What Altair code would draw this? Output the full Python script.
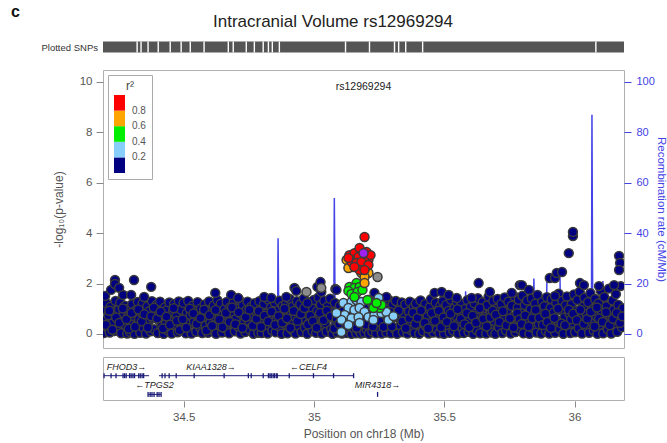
import altair as alt
import pandas as pd

# ---------------------------------------------------------------- data
TITLE = "Intracranial Volume rs12969294"
LEAD_NAME = "rs12969294"
X_DOMAIN = [34.19, 36.19]          # Mb on chr18
P_DOMAIN = [-0.556, 10.476]        # -log10(p)
R_DOMAIN = [-5.56, 104.76]         # cM/Mb

# r2 classes (upper bounds) and their colours
LD_BREAKS = [0.2, 0.4, 0.6, 0.8]
LD_COLORS = ["#000080", "#87cefa", "#00ee00", "#ffa500", "#ff0000"]
LD_NOMINAL = {"navy": 0.1, "lightblue": 0.3, "green": 0.5, "orange": 0.7, "red": 0.9}

# (position Mb, -log10 p) per LD class
NAVY_SNPS = [
    (34.193, 0.04), (34.196, 0.52), (34.199, 0.98), (34.203, 1.22), (34.207, 0.27), (34.211, 0.74),
    (34.216, 0.06), (34.219, 1.08), (34.224, 0.41), (34.229, 0.88), (34.234, 0.12), (34.238, 1.31),
    (34.242, 0.63), (34.247, 0.21), (34.251, 0.97), (34.256, 1.24), (34.260, 0.03), (34.264, 0.51),
    (34.269, 0.82), (34.274, 1.12), (34.278, 0.33), (34.283, 0.02), (34.287, 0.69),
    (34.291, 1.02), (34.294, 0.08), (34.298, 0.44), (34.302, 1.18), (34.306, 0.72), (34.311, 0.01),
    (34.315, 0.93), (34.319, 0.36), (34.324, 1.27), (34.328, 0.58), (34.333, 0.05), (34.337, 0.86),
    (34.342, 1.21), (34.346, 0.24), (34.351, 0.67), (34.355, 0.02), (34.360, 1.09), (34.364, 0.47),
    (34.369, 0.91), (34.373, 0.11), (34.378, 1.30), (34.382, 0.62), (34.387, 0.19),
    (34.392, 0.83), (34.396, 1.16), (34.400, 0.04), (34.405, 0.55), (34.409, 1.28), (34.414, 0.30),
    (34.418, 0.78), (34.423, 0.01), (34.427, 1.05), (34.432, 0.43), (34.436, 0.95), (34.441, 0.13),
    (34.445, 1.25), (34.450, 0.64), (34.454, 0.02), (34.459, 0.88), (34.463, 1.19), (34.468, 0.35),
    (34.472, 0.71), (34.477, 0.07), (34.481, 1.29), (34.486, 0.50),
    (34.490, 0.96), (34.494, 0.18), (34.499, 1.23), (34.503, 0.61), (34.508, 0.03), (34.512, 0.84),
    (34.517, 1.31), (34.521, 0.39), (34.526, 0.75), (34.530, 0.02), (34.535, 1.12), (34.539, 0.48),
    (34.544, 0.90), (34.548, 0.09), (34.553, 1.26), (34.557, 0.57), (34.562, 0.27), (34.566, 1.01),
    (34.571, 0.04), (34.575, 0.69), (34.580, 1.17), (34.584, 0.33), (34.589, 0.86),
    (34.593, 0.05), (34.597, 1.29), (34.602, 0.46), (34.606, 0.92), (34.611, 0.15), (34.615, 1.13),
    (34.620, 0.68), (34.624, 0.01), (34.629, 1.34), (34.633, 0.37), (34.638, 0.81), (34.642, 1.20),
    (34.647, 0.06), (34.651, 0.54), (34.656, 0.99), (34.660, 0.22), (34.665, 1.27), (34.669, 0.72),
    (34.674, 0.03), (34.678, 1.06), (34.683, 0.42), (34.687, 0.87),
    (34.691, 1.24), (34.696, 0.11), (34.700, 0.60), (34.705, 1.02), (34.709, 0.29), (34.714, 1.33),
    (34.718, 0.02), (34.723, 0.77), (34.727, 1.15), (34.732, 0.45), (34.736, 0.08), (34.741, 0.94),
    (34.745, 1.28), (34.750, 0.53), (34.754, 0.17), (34.759, 1.08), (34.763, 0.70), (34.768, 0.01),
    (34.772, 1.22), (34.777, 0.38), (34.781, 0.85), (34.786, 0.05),
    (34.790, 1.30), (34.795, 0.63), (34.799, 0.04), (34.804, 0.97), (34.808, 1.19), (34.813, 0.31),
    (34.817, 0.80), (34.822, 0.02), (34.826, 1.36), (34.831, 0.49), (34.835, 1.05), (34.840, 0.14),
    (34.844, 0.73), (34.849, 1.25), (34.853, 0.07), (34.858, 0.58), (34.862, 0.93), (34.867, 1.32),
    (34.871, 0.26), (34.876, 0.01), (34.880, 1.11), (34.885, 0.66),
    (34.889, 0.40), (34.893, 1.21), (34.898, 0.03), (34.902, 0.87), (34.907, 1.39), (34.911, 0.55),
    (34.916, 0.16), (34.920, 1.10), (34.925, 0.70), (34.929, 0.02), (34.934, 1.30), (34.938, 0.34),
    (34.943, 0.95), (34.947, 1.18), (34.952, 0.08), (34.956, 0.62), (34.961, 1.41), (34.965, 0.25),
    (34.970, 0.83), (34.974, 0.01), (34.979, 1.26), (34.983, 0.47),
    (34.990, 1.04), (34.994, 0.12), (34.999, 1.35), (35.003, 0.59), (35.008, 0.05), (35.012, 0.90),
    (35.017, 1.45), (35.021, 0.28), (35.026, 1.16), (35.030, 0.02), (35.035, 0.74), (35.039, 1.32),
    (35.044, 0.43), (35.048, 0.09), (35.053, 1.09), (35.057, 0.66), (35.062, 1.40), (35.066, 0.19),
    (35.071, 0.01), (35.075, 0.85), (35.080, 1.23), (35.084, 0.37),
    (35.090, 0.06), (35.094, 0.72), (35.099, 1.12), (35.103, 0.31), (35.108, 0.02), (35.112, 0.90),
    (35.117, 0.18), (35.121, 0.53), (35.126, 0.04), (35.130, 0.80), (35.135, 0.12), (35.139, 0.45),
    (35.144, 0.01), (35.148, 0.88), (35.153, 0.22), (35.157, 0.58), (35.162, 0.03), (35.166, 0.79),
    (35.171, 0.15), (35.175, 0.41), (35.180, 0.02), (35.184, 0.93), (35.189, 0.27),
    (35.193, 0.05), (35.197, 0.62), (35.202, 0.19), (35.206, 1.02), (35.211, 0.01), (35.215, 0.47),
    (35.220, 0.85), (35.224, 0.10), (35.229, 0.68), (35.233, 1.18), (35.238, 0.03), (35.242, 0.56),
    (35.247, 0.92), (35.251, 0.24), (35.256, 1.29), (35.260, 0.02), (35.265, 0.75), (35.269, 1.10),
    (35.274, 0.36), (35.278, 0.06), (35.283, 0.97), (35.287, 1.35),
    (35.292, 0.50), (35.296, 0.03), (35.301, 1.14), (35.305, 0.81), (35.310, 0.20), (35.314, 1.31),
    (35.319, 0.01), (35.323, 0.64), (35.328, 1.00), (35.332, 0.33), (35.337, 1.25), (35.341, 0.07),
    (35.346, 0.76), (35.350, 1.17), (35.355, 0.44), (35.359, 0.02), (35.364, 0.89), (35.368, 1.28),
    (35.373, 0.15), (35.377, 0.61), (35.382, 1.06), (35.386, 0.04),
    (35.391, 1.21), (35.395, 0.38), (35.400, 0.83), (35.404, 0.01), (35.409, 1.33), (35.413, 0.57),
    (35.418, 0.11), (35.422, 0.96), (35.427, 1.19), (35.431, 0.29), (35.436, 0.70), (35.440, 0.02),
    (35.445, 1.07), (35.449, 1.38), (35.454, 0.48), (35.458, 0.06), (35.463, 0.86), (35.467, 1.24),
    (35.472, 0.17), (35.476, 0.65), (35.481, 0.03), (35.485, 1.12),
    (35.490, 0.42), (35.494, 1.30), (35.499, 0.01), (35.503, 0.78), (35.508, 1.16), (35.512, 0.26),
    (35.517, 0.92), (35.521, 0.05), (35.526, 1.36), (35.530, 0.59), (35.535, 0.13), (35.539, 1.03),
    (35.544, 0.71), (35.548, 1.27), (35.553, 0.02), (35.557, 0.46), (35.562, 0.88), (35.566, 1.20),
    (35.571, 0.21), (35.575, 0.04), (35.580, 0.99), (35.584, 0.63),
    (35.589, 1.34), (35.593, 0.09), (35.598, 0.55), (35.602, 1.08), (35.607, 0.30), (35.611, 0.01),
    (35.616, 1.22), (35.620, 0.80), (35.625, 0.16), (35.629, 1.42), (35.634, 0.49), (35.638, 0.03),
    (35.643, 0.94), (35.647, 1.26), (35.652, 0.37), (35.656, 0.68), (35.661, 0.02), (35.665, 1.14),
    (35.670, 1.48), (35.674, 0.23), (35.679, 0.84), (35.683, 0.06), (35.688, 1.31),
    (35.692, 0.52), (35.696, 0.01), (35.701, 1.00), (35.705, 1.39), (35.710, 0.27), (35.714, 0.74),
    (35.719, 1.19), (35.723, 0.04), (35.728, 0.58), (35.732, 1.45), (35.737, 0.14), (35.741, 0.91),
    (35.746, 1.28), (35.750, 0.40), (35.755, 0.02), (35.759, 1.12), (35.764, 0.69), (35.768, 1.50),
    (35.773, 0.08), (35.777, 0.33), (35.782, 1.05), (35.786, 1.36),
    (35.791, 0.18), (35.795, 0.82), (35.800, 1.52), (35.804, 0.03), (35.809, 1.15), (35.813, 0.47),
    (35.818, 1.33), (35.822, 0.60), (35.827, 0.01), (35.831, 0.97), (35.836, 1.41), (35.840, 0.25),
    (35.845, 0.76), (35.849, 1.20), (35.854, 0.06), (35.858, 1.55), (35.863, 0.39), (35.867, 0.88),
    (35.872, 0.02), (35.876, 1.27), (35.881, 0.64), (35.885, 1.10),
    (35.890, 0.12), (35.894, 1.46), (35.899, 0.71), (35.903, 0.02), (35.908, 1.03), (35.912, 1.38),
    (35.917, 0.35), (35.921, 0.86), (35.926, 0.05), (35.930, 1.24), (35.935, 0.54), (35.939, 1.60),
    (35.944, 0.20), (35.948, 0.95), (35.953, 1.32), (35.957, 0.01), (35.962, 0.66), (35.966, 1.14),
    (35.971, 1.49), (35.975, 0.29), (35.980, 0.81), (35.984, 0.04),
    (35.989, 1.18), (35.993, 0.44), (35.998, 1.57), (36.002, 0.07), (36.007, 0.92), (36.011, 1.35),
    (36.016, 0.23), (36.020, 1.68), (36.025, 0.61), (36.029, 0.02), (36.034, 1.09), (36.038, 1.44),
    (36.043, 0.31), (36.047, 0.79), (36.052, 1.26), (36.056, 0.05), (36.061, 1.62), (36.065, 0.50),
    (36.070, 0.98), (36.074, 0.14), (36.079, 1.39), (36.083, 0.70), (36.088, 0.01),
    (36.092, 1.21), (36.096, 0.36), (36.101, 1.72), (36.105, 0.85), (36.110, 0.03), (36.114, 1.47),
    (36.119, 0.58), (36.123, 1.10), (36.128, 0.18), (36.132, 1.80), (36.137, 0.74), (36.141, 0.02),
    (36.146, 1.33), (36.150, 0.95), (36.155, 0.41), (36.159, 1.58), (36.164, 0.09), (36.168, 1.15),
    (36.173, 0.66), (36.177, 1.90), (36.182, 0.27), (36.186, 1.02),
]
NAVY_DENSE = [
    (34.201, 0.36), (34.214, 0.92), (34.226, 0.17), (34.240, 0.66), (34.253, 0.44), (34.266, 1.01),
    (34.280, 0.58), (34.289, 0.21), (34.300, 0.83), (34.313, 0.29), (34.326, 0.97), (34.339, 0.50),
    (34.349, 0.78), (34.362, 0.26), (34.375, 0.70), (34.385, 1.04), (34.398, 0.61), (34.411, 0.88),
    (34.420, 0.22), (34.434, 0.69), (34.447, 0.37), (34.461, 1.02), (34.474, 0.53), (34.484, 0.15),
    (34.496, 0.58), (34.510, 0.25), (34.523, 1.00), (34.537, 0.81), (34.550, 0.40), (34.564, 0.63),
    (34.578, 0.96), (34.587, 0.14), (34.599, 0.74), (34.609, 0.32), (34.622, 0.95), (34.636, 0.58),
    (34.649, 0.27), (34.662, 0.83), (34.676, 0.48), (34.685, 1.05), (34.698, 0.39), (34.711, 0.86),
    (34.725, 0.24), (34.738, 0.67), (34.752, 0.96), (34.765, 0.33), (34.779, 0.60), (34.788, 0.90),
    (34.797, 0.28), (34.810, 0.72), (34.824, 0.50), (34.837, 0.88), (34.851, 0.36), (34.864, 0.71),
    (34.878, 0.45), (34.887, 1.00), (34.896, 0.62), (34.909, 0.24), (34.922, 0.91), (34.936, 0.52),
    (34.950, 0.79), (34.963, 1.03), (34.977, 0.38), (34.986, 0.72), (34.996, 0.51), (35.010, 0.25),
    (35.023, 0.83), (35.037, 0.55), (35.050, 0.92), (35.064, 0.70), (35.078, 0.22), (35.087, 0.60),
    (35.097, 0.40), (35.110, 0.65), (35.124, 0.28), (35.137, 0.70), (35.150, 0.42), (35.164, 0.25),
    (35.178, 0.66), (35.187, 0.50), (35.199, 0.37), (35.213, 0.80), (35.226, 0.30), (35.240, 0.74),
    (35.253, 0.50), (35.267, 0.28), (35.280, 0.68), (35.290, 0.88), (35.299, 0.30), (35.312, 0.68),
    (35.325, 0.92), (35.339, 0.50), (35.352, 0.23), (35.366, 0.62), (35.380, 0.84), (35.389, 0.40),
    (35.398, 0.64), (35.411, 0.93), (35.425, 0.45), (35.438, 0.22), (35.452, 0.83), (35.465, 0.52),
    (35.479, 0.92), (35.488, 0.27), (35.497, 0.66), (35.510, 0.48), (35.524, 0.80), (35.537, 0.31),
    (35.551, 0.98), (35.564, 0.60), (35.578, 0.39), (35.587, 0.82), (35.596, 0.27), (35.609, 0.72),
    (35.622, 0.45), (35.636, 1.02), (35.650, 0.60), (35.663, 0.30), (35.677, 0.66), (35.686, 0.92),
    (35.698, 0.76), (35.712, 0.48), (35.725, 0.90), (35.739, 0.35), (35.752, 0.62), (35.766, 0.26),
    (35.780, 0.82), (35.789, 0.58), (35.797, 0.40), (35.811, 0.73), (35.824, 0.30), (35.838, 0.62),
    (35.851, 0.95), (35.865, 0.64), (35.879, 0.36), (35.888, 0.80), (35.896, 0.48), (35.910, 0.24),
    (35.923, 0.63), (35.937, 1.00), (35.950, 0.42), (35.964, 0.35), (35.978, 0.96), (35.987, 0.58),
    (35.995, 0.80), (36.009, 0.55), (36.022, 0.96), (36.036, 0.40), (36.049, 0.60), (36.063, 0.88),
    (36.077, 0.30), (36.086, 1.05), (36.094, 0.62), (36.108, 0.48), (36.121, 0.86), (36.135, 0.35),
    (36.148, 0.60), (36.162, 0.83), (36.175, 0.44), (36.184, 0.70),
]
NAVY_PEAKS = [
    (34.198, 1.51), (34.221, 1.75), (34.236, 2.14), (34.236, 1.98), (34.252, 1.83), (34.267, 1.55),
    (34.298, 1.55), (34.309, 2.14), (34.348, 1.47), (34.375, 1.87), (34.621, 1.63), (34.682, 1.55),
    (34.709, 1.43), (34.809, 1.47), (34.836, 1.43), (34.894, 1.47), (34.925, 1.83), (34.932, 1.71),
    (34.975, 1.23), (35.013, 1.87), (35.025, 2.06), (35.028, 1.67), (35.082, 1.79), (35.086, 1.75),
    (35.232, 1.63), (35.278, 1.47), (35.463, 1.63), (35.490, 1.67), (35.517, 1.55), (35.548, 1.43),
    (35.605, 1.43), (35.632, 2.02), (35.675, 1.67), (35.759, 1.63), (35.790, 1.94), (35.798, 1.94),
    (35.825, 1.75), (35.905, 2.22), (35.925, 2.22), (35.932, 2.42), (35.952, 2.46), (35.925, 1.51),
    (35.978, 3.21), (35.994, 3.89), (35.994, 4.05), (36.021, 2.02), (36.036, 1.94), (36.094, 1.90),
    (36.152, 1.94), (36.171, 3.10), (36.175, 2.82), (36.171, 2.54),
]
LIGHTBLUE_SNPS = [
    (35.113, 1.23), (35.144, 1.27), (35.163, 1.35), (35.182, 1.27), (35.209, 1.35), (35.248, 1.43),
    (35.132, 1.03), (35.155, 0.95), (35.175, 1.03), (35.194, 0.87), (35.117, 0.75), (35.144, 0.63),
    (35.171, 0.67), (35.209, 0.67), (35.232, 0.75), (35.259, 0.83), (35.278, 0.87), (35.105, 0.56),
    (35.132, 0.36), (35.175, 0.44), (35.286, 0.56), (35.105, 0.08), (35.228, 0.56), (35.305, 0.71),
    (35.086, 0.83),
]
GREEN_SNPS = [
    (35.163, 2.02), (35.136, 1.87), (35.155, 1.83), (35.175, 1.87), (35.132, 1.71), (35.144, 1.59),
    (35.167, 1.67), (35.186, 1.75), (35.155, 1.47), (35.221, 1.23), (35.232, 1.07), (35.252, 1.03),
    (35.228, 1.03), (35.259, 1.15), (35.240, 1.23), (35.205, 1.35),
]
ORANGE_SNPS = [
    (35.125, 2.94), (35.144, 2.66), (35.182, 2.42), (35.209, 2.42), (35.194, 2.26), (35.194, 2.02),
    (35.132, 2.62),
]
RED_SNPS = [
    (35.194, 3.85), (35.136, 3.13), (35.155, 3.21), (35.171, 3.06), (35.202, 3.06), (35.209, 2.94),
    (35.144, 2.86), (35.163, 2.82), (35.182, 2.86), (35.209, 2.74), (35.175, 2.54), (35.194, 2.54),
    (35.155, 2.66), (35.132, 3.02), (35.175, 3.41), (35.202, 3.25), (35.217, 3.13),
]
GRAY_SNPS = [(35.244, 2.26), (34.971, 1.67), (35.028, 1.83)]
LEAD_SNP = [(35.190, 3.21)]

# recombination rate (cM/Mb)
RECOMB_POS = [34.19, 34.30, 34.45, 34.60, 34.75, 34.860, 34.862, 34.865, 34.880, 34.882, 34.885,
              34.95, 35.038, 35.040, 35.043, 35.076, 35.078, 35.081, 35.20, 35.35, 35.50, 35.580,
              35.582, 35.585, 35.70, 35.842, 35.844, 35.847, 35.892, 35.894, 35.944, 35.947, 36.00,
              36.065, 36.067, 36.070, 36.107, 36.109, 36.112, 36.19]
RECOMB_RATE = [2, 3, 1, 4, 2, 3, 38, 4, 5, 16, 6,
               3, 4, 17, 5, 5, 54, 6, 2, 3, 2, 4,
               17, 4, 3, 5, 22, 6, 6, 21, 24, 5, 4,
               5, 87, 6, 5, 21, 5, 4]

# genes: name, start, end (Mb), track row, strand
GENE_NAMES = ["FHOD3", "KIAA1328", "CELF4", "TPGS2", "MIR4318"]
GENE_START = [34.194, 34.405, 34.805, 34.363, 35.243]
GENE_END = [34.367, 34.805, 35.152, 34.413, 35.245]
GENE_ROW = [1, 1, 1, 2, 2]
GENE_STRAND = ["+", "+", "-", "-", "+"]
EXON_GENE = (["FHOD3"] * 14 + ["KIAA1328"] * 9 + ["CELF4"] * 11 + ["TPGS2"] * 7 + ["MIR4318"])
EXON_POS = [34.194, 34.221, 34.240, 34.267, 34.273, 34.279, 34.292, 34.298, 34.305, 34.311,
            34.327, 34.333, 34.340, 34.346,
            34.417, 34.428, 34.444, 34.471, 34.540, 34.655, 34.748, 34.759, 34.805,
            34.825, 34.831, 34.836, 34.843, 34.848, 34.855, 34.859, 34.905, 34.998, 35.075, 35.152,
            34.363, 34.371, 34.378, 34.386, 34.398, 34.405, 34.413,
            35.244]

# stretches with no plotted SNPs
SNP_GAPS = [34.321, 34.336, 34.363, 34.402, 34.448, 34.490, 34.525, 34.578, 34.671, 34.690,
            34.740, 34.771, 34.805, 34.825, 34.840, 34.867, 35.121, 35.213, 35.309, 35.325,
            35.352, 35.417, 36.082]

# ---------------------------------------------------------------- tables
def snp_table(rows, r2=None):
    df = pd.DataFrame(rows, columns=["pos", "logp"])
    if r2 is not None:
        df["r2"] = r2
    return df

ld_df = pd.concat([
    snp_table(NAVY_SNPS + NAVY_DENSE + NAVY_PEAKS, LD_NOMINAL["navy"]),
    snp_table(LIGHTBLUE_SNPS, LD_NOMINAL["lightblue"]),
    snp_table(GREEN_SNPS, LD_NOMINAL["green"]),
    snp_table(ORANGE_SNPS, LD_NOMINAL["orange"]),
    snp_table(RED_SNPS, LD_NOMINAL["red"]),
], ignore_index=True)
ld_df["seq"] = range(len(ld_df))
gray_df = snp_table(GRAY_SNPS)
lead_df = snp_table(LEAD_SNP)
lead_df["name"] = LEAD_NAME
rec_df = pd.DataFrame({"pos": RECOMB_POS, "rate": RECOMB_RATE})

gene_df = pd.DataFrame({"name": GENE_NAMES, "start": GENE_START, "end": GENE_END,
                        "row": GENE_ROW, "strand": GENE_STRAND})
gene_df["mid"] = (gene_df["start"] + gene_df["end"]) / 2
gene_df["label"] = [n + "→" if s == "+" else "←" + n for n, s in zip(GENE_NAMES, GENE_STRAND)]
exon_df = pd.DataFrame({"gene": EXON_GENE, "pos": EXON_POS})
exon_df["row"] = exon_df["gene"].map(dict(zip(GENE_NAMES, GENE_ROW)))

# ---------------------------------------------------------------- styling
FONT = "Liberation Sans"
GREY_TXT = "#555555"
RECOMB_BLUE = "#4343e6"
GENE_BLUE = "#1c1c78"
PANEL_W = 521
DOT = dict(size=80, opacity=1, stroke="#3b3b3b", strokeWidth=1.5, clip=True)

x_scale = alt.Scale(domain=X_DOMAIN, nice=False, zero=False)
x_none = alt.X("pos:Q", scale=x_scale, axis=None)

# ---------------------------------------------------------------- header: title + plotted SNPs strip
strip = alt.Chart(pd.DataFrame({"start": [X_DOMAIN[0]], "end": [X_DOMAIN[1]]})).mark_rect(
    color="#555555").encode(
    x=alt.X("start:Q", scale=x_scale, axis=None), x2="end:Q",
    y=alt.value(40.5), y2=alt.value(51.5))
gaps = alt.Chart(pd.DataFrame({"pos": SNP_GAPS})).mark_rule(color="white", strokeWidth=1.4).encode(
    x=x_none, y=alt.value(40.5), y2=alt.value(51.5))
title_txt = alt.Chart(pd.DataFrame({"t": [TITLE]})).mark_text(
    fontSize=17, color="#222222", align="center", baseline="middle").encode(
    x=alt.value(230), y=alt.value(21), text="t:N")
panel_tag = alt.Chart(pd.DataFrame({"t": ["c"]})).mark_text(
    fontSize=16, fontWeight="bold", color="#111111", align="left", baseline="middle").encode(
    x=alt.value(-92), y=alt.value(11), text="t:N")
strip_lbl = alt.Chart(pd.DataFrame({"t": ["Plotted SNPs"]})).mark_text(
    fontSize=9.5, color="#333333", align="right", baseline="middle").encode(
    x=alt.value(-5), y=alt.value(46.5), text="t:N")
header = alt.layer(strip, gaps, title_txt, panel_tag, strip_lbl).properties(
    width=PANEL_W, height=60, view=alt.ViewBackground(stroke="transparent"))

# ---------------------------------------------------------------- association panel
p_scale = alt.Scale(domain=P_DOMAIN, nice=False, zero=False)
p_axis = alt.Axis(values=[0, 2, 4, 6, 8, 10], title="-log₁₀(p-value)", grid=False, domain=False,
                  tickSize=7, tickColor="#888888", labelColor=GREY_TXT, labelFontSize=11.5,
                  labelPadding=4, titleColor=GREY_TXT, titleFontSize=12, titleFontWeight="normal",
                  titlePadding=14)
y_p = alt.Y("logp:Q", scale=p_scale, axis=p_axis)

recomb = alt.Chart(rec_df).mark_line(color=RECOMB_BLUE, strokeWidth=1.5, clip=True).encode(
    x=x_none,
    y=alt.Y("rate:Q", scale=alt.Scale(domain=R_DOMAIN, nice=False, zero=False),
            axis=alt.Axis(orient="right", values=[0, 20, 40, 60, 80, 100],
                          title="Recombination rate (cM/Mb)", grid=False, domain=False,
                          tickSize=7, tickColor=RECOMB_BLUE, labelColor=RECOMB_BLUE,
                          labelFontSize=11, labelPadding=5, titleColor=RECOMB_BLUE,
                          titleFontSize=11.5, titleFontWeight="normal", titlePadding=1)))

ld_legend = alt.Legend(type="gradient", orient="none", legendX=5, legendY=5, direction="vertical",
                       title="r²", titleFontSize=12, titleFontWeight="normal", titleColor="#444444",
                       titleAnchor="middle", titlePadding=2, gradientLength=78,
                       gradientThickness=11, gradientStrokeWidth=0, labelFontSize=10,
                       labelColor=GREY_TXT, labelOffset=7, padding=6, strokeColor="#aaaaaa",
                       fillColor="white")
snps = alt.Chart(ld_df).mark_circle(**DOT).encode(
    x=x_none, y=y_p,
    color=alt.Color("r2:Q", scale=alt.Scale(type="threshold", domain=LD_BREAKS, range=LD_COLORS),
                    legend=ld_legend),
    order=alt.Order("seq:Q"))
gray = alt.Chart(gray_df).mark_circle(color="#8c8c8c", **DOT).encode(x=x_none, y=y_p)
lead = alt.Chart(lead_df).mark_circle(color="#a020f0", **DOT).encode(x=x_none, y=y_p)
lead_lbl = alt.Chart(lead_df).mark_text(fontSize=10.5, color="#222222", baseline="middle").encode(
    x=x_none, y=alt.value(17), text="name:N")

assoc = alt.layer(recomb, alt.layer(snps, gray, lead, lead_lbl)).resolve_scale(
    y="independent").properties(width=PANEL_W, height=278)

# ---------------------------------------------------------------- gene track
row_y = alt.Y("row:Q", scale=alt.Scale(domain=[0, 2.3], reverse=True, nice=False, zero=False),
              axis=None)
pos_axis = alt.Axis(values=[34.5, 35, 35.5, 36], format="~g", title="Position on chr18 (Mb)",
                    grid=False, domain=False, tickSize=6, tickColor="#888888", offset=1,
                    labelColor=GREY_TXT, labelFontSize=11.5, labelPadding=4, titleColor=GREY_TXT,
                    titleFontSize=12, titleFontWeight="normal", titlePadding=6)
gene_lines = alt.Chart(gene_df).mark_rule(color=GENE_BLUE, strokeWidth=1).encode(
    x=alt.X("start:Q", scale=x_scale, axis=pos_axis), x2="end:Q", y=row_y)
exons = alt.Chart(exon_df).mark_tick(orient="vertical", size=5, thickness=1.3,
                                     color=GENE_BLUE, opacity=1).encode(
    x=alt.X("pos:Q", scale=x_scale, axis=pos_axis), y=row_y)
gene_lbl = alt.Chart(gene_df).mark_text(fontSize=9, fontStyle="italic", color="#222222",
                                        dy=-9, baseline="middle").encode(
    x=alt.X("mid:Q", scale=x_scale, axis=pos_axis), y=row_y, text="label:N")
genes = alt.layer(gene_lines, exons, gene_lbl).properties(width=PANEL_W, height=43)

# ---------------------------------------------------------------- assemble
chart = alt.vconcat(header, assoc, genes, spacing=7).resolve_scale(
    color="independent").resolve_legend(color="independent").properties(
    padding={"left": 10, "top": 0, "right": 0, "bottom": 4}, background="white"
).configure(font=FONT).configure_view(stroke="#b0b0b0", strokeWidth=1)

chart.save("out.html", embed_options={"renderer": "svg", "actions": False})
